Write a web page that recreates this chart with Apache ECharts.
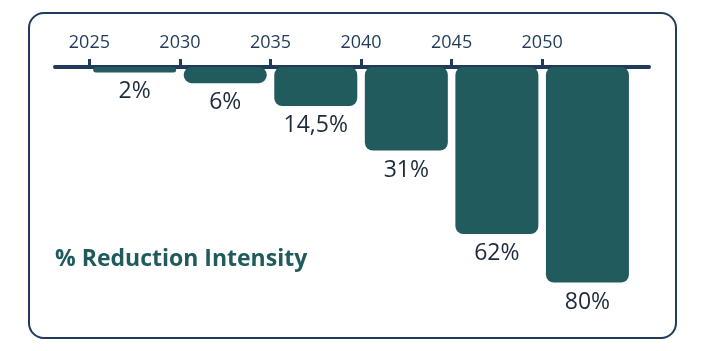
<!DOCTYPE html>
<html>
<head>
<meta charset="utf-8">
<script src="https://cdn.jsdelivr.net/npm/echarts@6/dist/echarts.min.js"></script>
<style>
  html, body { margin: 0; padding: 0; background: #fff; }
  #chart { width: 706px; height: 351px; }
</style>
</head>
<body>
<div id="chart"></div>
<script>
// data
var years = [2025, 2030, 2035, 2040, 2045, 2050];
var barYears = [2027.5, 2032.5, 2037.5, 2042.5, 2047.5, 2052.5];
var reductions = [2, 6, 14.5, 31, 62, 80];
var valueLabels = ['2%', '6%', '14,5%', '31%', '62%', '80%'];

var navy = '#1f3a5a';
var teal = '#215b5d';

var chart = echarts.init(document.getElementById('chart'));

var seriesData = [];
for (var i = 0; i < reductions.length; i++) {
    seriesData.push({ value: [barYears[i], reductions[i]], label: { formatter: valueLabels[i] } });
}

var option = {
    backgroundColor: '#fff',
    animation: false,
    graphic: [
        {
            type: 'rect',
            shape: { x: 29, y: 13, width: 647, height: 325, r: 15 },
            style: { fill: 'none', stroke: navy, lineWidth: 2 }
        },
        {
            type: 'text',
            left: 55,
            top: 248,
            style: {
                text: '% Reduction Intensity',
                fill: '#1f5a5c',
                font: 'bold 23px "Open Sans"'
            }
        }
    ],
    grid: { left: 55, right: 57, top: 67, height: 269.4 },
    xAxis: {
        type: 'value',
        position: 'top',
        offset: 4,
        min: 2023.1,
        max: 2055.9,
        splitLine: { show: false },
        axisLine: { show: true, lineStyle: { color: navy, width: 4 } },
        axisTick: { show: true, customValues: years, length: 8, lineStyle: { color: navy, width: 3 } },
        axisLabel: {
            customValues: years,
            formatter: function (v) { return String(v); },
            margin: 11,
            color: navy,
            fontSize: 18,
            fontFamily: 'Open Sans'
        }
    },
    yAxis: {
        type: 'value',
        inverse: true,
        min: 0,
        max: 100,
        show: false
    },
    series: [{
        type: 'bar',
        data: seriesData,
        barWidth: 83,
        itemStyle: { color: teal, borderRadius: 8 },
        label: {
            show: true,
            position: 'bottom',
            distance: 8,
            color: '#1c2a3c',
            fontSize: 23,
            fontFamily: 'Open Sans'
        }
    }]
};

chart.setOption(option);
</script>
</body>
</html>
